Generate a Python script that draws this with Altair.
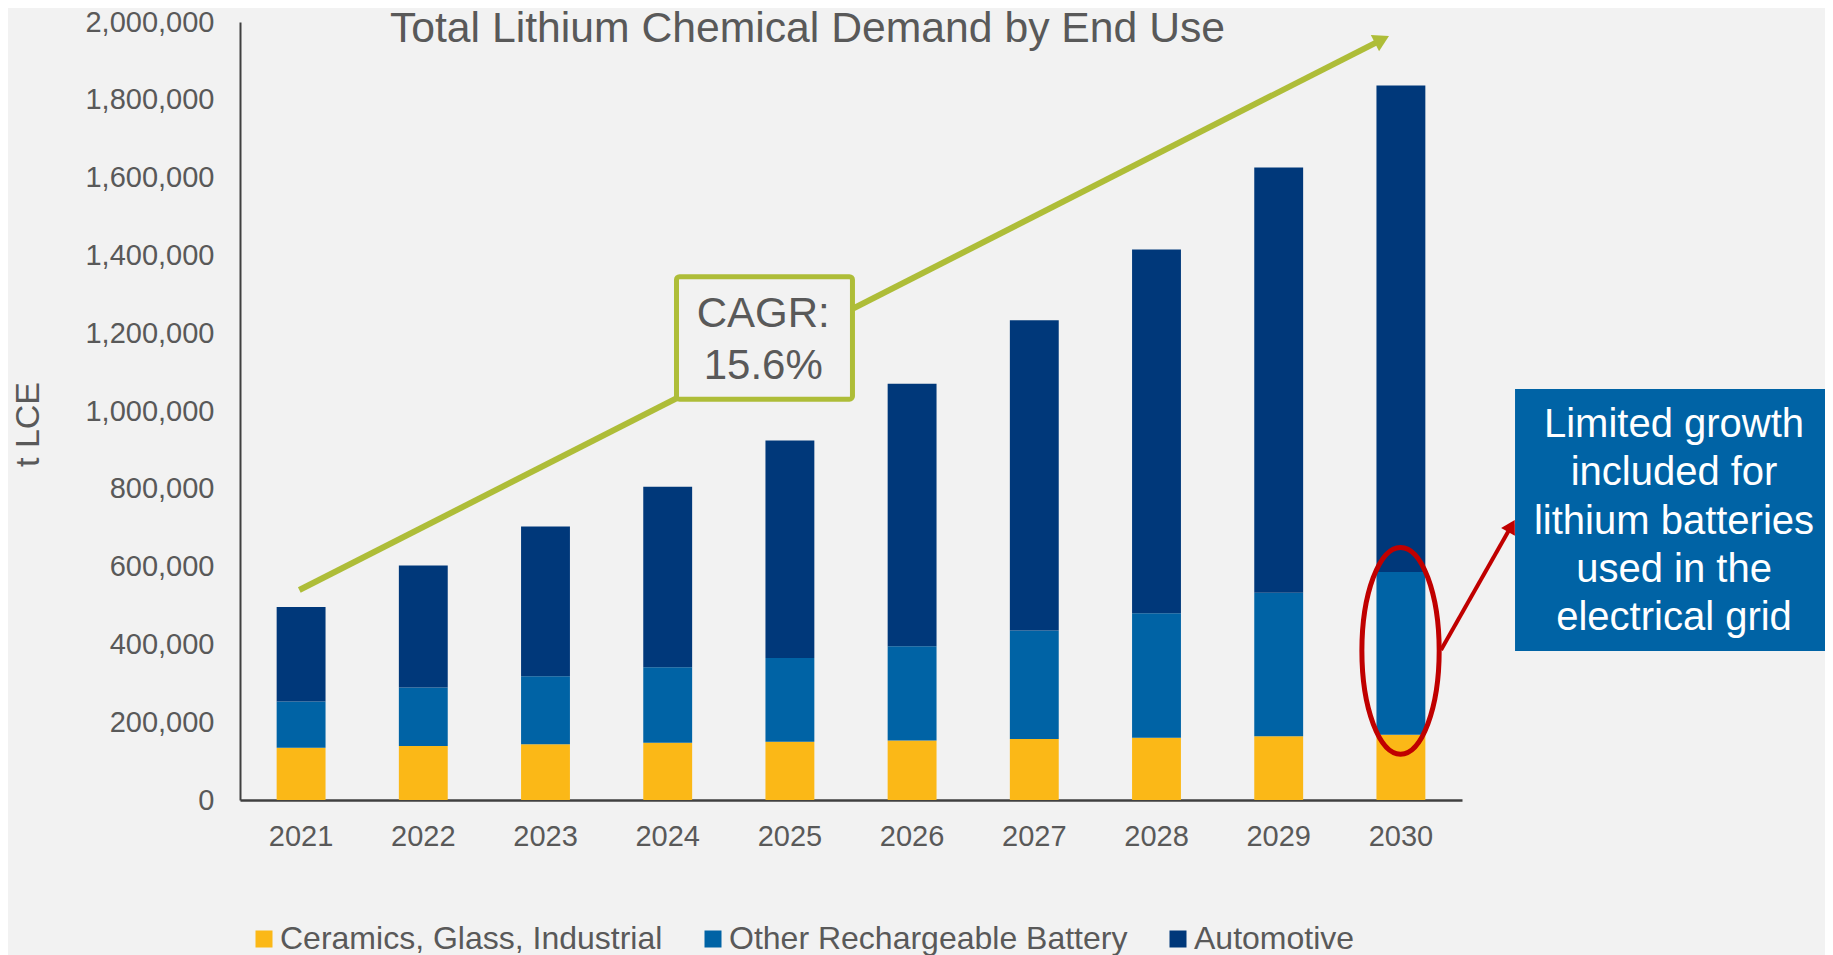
import altair as alt
import pandas as pd

# ---------------- data ----------------
years = ["2021", "2022", "2023", "2024", "2025", "2026", "2027", "2028", "2029", "2030"]
ceramics = [134000, 139000, 143000, 147000, 150000, 153000, 157000, 160000, 164000, 168000]
other_battery = [119000, 150000, 175000, 194000, 215000, 242000, 279000, 320000, 369000, 418000]
automotive = [243000, 314000, 385000, 464000, 559000, 675000, 797000, 935000, 1093000, 1251000]
series_names = ["Ceramics, Glass, Industrial", "Other Rechargeable Battery", "Automotive"]
y_ticks = [0, 200000, 400000, 600000, 800000, 1000000, 1200000, 1400000, 1600000, 1800000, 2000000]

title_text = "Total Lithium Chemical Demand by End Use"
cagr_lines = ["CAGR:", "15.6%"]
note_lines = ["Limited growth", "included for", "lithium batteries", "used in the", "electrical grid"]

# ---------------- styling ----------------
series_colors = ["#FBB817", "#0063A5", "#00387A"]
TEXT = "#595959"
GREEN = "#AEBD38"
RED = "#C00000"
BOX_BLUE = "#0063A5"
BG = "#F2F2F2"
FONT = "Liberation Sans"
PLOT_W, PLOT_H = 1222, 778

rows = []
for i, yr in enumerate(years):
    for k, (name, vals) in enumerate(zip(series_names, [ceramics, other_battery, automotive])):
        rows.append({"year": yr, "series": name, "value": vals[i], "k": k})
df = pd.DataFrame(rows)

yscale = alt.Scale(domain=[0, 2000000], nice=False, zero=True)
xann = alt.Scale(domain=[0, 10], nice=False, zero=False)

bars = alt.Chart(df).mark_bar().encode(
    x=alt.X("year:N", sort=years,
            scale=alt.Scale(paddingInner=0.6, paddingOuter=0.3),
            axis=alt.Axis(title=None, labelAngle=0, labelFontSize=29, labelColor=TEXT, labelFont=FONT,
                          domainColor="#404040", domainWidth=2.5, ticks=False, tickSize=0,
                          labelPadding=45, labelBaseline="alphabetic", grid=False)),
    y=alt.Y("value:Q", stack="zero", scale=yscale,
            axis=alt.Axis(title="t LCE", values=y_ticks, format=",.0f", labelFontSize=29, labelColor=TEXT,
                          labelFont=FONT, labelPadding=26, ticks=False, tickSize=0, grid=False,
                          domainColor="#404040", domainWidth=2,
                          titleFontSize=34, titleFont=FONT, titleColor=TEXT, titleFontWeight="normal",
                          titleAngle=270, titleAlign="center", titleBaseline="alphabetic",
                          titleX=-202, titleY=402)),
    color=alt.Color("series:N", scale=alt.Scale(domain=series_names, range=series_colors),
                    legend=alt.Legend(title=None, orient="none", legendX=8, legendY=901,
                                      direction="horizontal", symbolType="square", symbolSize=289,
                                      symbolStrokeWidth=0, labelFontSize=32, labelColor=TEXT,
                                      labelFont=FONT, labelOffset=0, columnPadding=34,
                                      labelLimit=1000, padding=0)),
    order=alt.Order("k:Q", sort="ascending"),
)

def ax_x(field="ax"):
    return alt.X(f"{field}:Q", scale=xann, axis=None)

def ay_y(field="ay"):
    return alt.Y(f"{field}:Q", scale=yscale, axis=None)

# green CAGR arrow
green_df = pd.DataFrame({"ax": [0.4853], "ax2": [9.345], "ay": [539800], "ay2": [1954800]})
green_line = alt.Chart(green_df).mark_rule(color=GREEN, strokeWidth=6).encode(
    x=ax_x(), x2="ax2:Q", y=ay_y(), y2="ay2:Q")
green_head = alt.Chart(pd.DataFrame({"ax": [9.345], "ay": [1954800]})).mark_point(
    shape="triangle-up", filled=True, size=330, angle=63.06, color=GREEN, opacity=1).encode(
    x=ax_x(), y=ay_y())

# CAGR box
cagr_box = alt.Chart(pd.DataFrame({"ax": [3.572], "ax2": [5.012], "ay": [1030400], "ay2": [1345200]})).mark_rect(
    fill=BG, stroke=GREEN, strokeWidth=5, cornerRadius=3).encode(
    x=ax_x(), x2="ax2:Q", y=ay_y(), y2="ay2:Q")
cagr_text = alt.Chart(pd.DataFrame({"ax": [4.282, 4.282], "ay": [1215200, 1081500], "t": cagr_lines})).mark_text(
    align="center", baseline="alphabetic", fontSize=42, font=FONT, color=TEXT).encode(
    x=ax_x(), y=ay_y(), text="t:N")

title = alt.Chart(pd.DataFrame({"ax": [4.644], "ay": [1947800], "t": [title_text]})).mark_text(
    align="center", baseline="alphabetic", fontSize=42.7, font=FONT, color=TEXT).encode(
    x=ax_x(), y=ay_y(), text="t:N")

# red ellipse + arrow
ellipse_path = ("M0,-1C0.2066,-1 0.374,-0.5523 0.374,0C0.374,0.5523 0.2066,1 0,1"
                "C-0.2066,1 -0.374,0.5523 -0.374,0C-0.374,-0.5523 -0.2066,-1 0,-1Z")
ellipse = alt.Chart(pd.DataFrame({"ax": [9.497], "ay": [383500]})).mark_point(
    shape=ellipse_path, size=42725, filled=False, stroke=RED, strokeWidth=5, opacity=1).encode(
    x=ax_x(), y=ay_y())
red_line = alt.Chart(pd.DataFrame({"ax": [9.828], "ax2": [10.404], "ay": [385600], "ay2": [704400]})).mark_rule(
    color=RED, strokeWidth=4).encode(x=ax_x(), x2="ax2:Q", y=ay_y(), y2="ay2:Q")
red_head = alt.Chart(pd.DataFrame({"ax": [10.404], "ay": [704400]})).mark_point(
    shape="triangle-up", filled=True, size=250, angle=29.6, color=RED, opacity=1).encode(
    x=ax_x(), y=ay_y())

# blue note box
blue_box = alt.Chart(pd.DataFrame({"ax": [10.434], "ax2": [13.036], "ay": [383000], "ay2": [1056600]})).mark_rect(
    fill=BOX_BLUE).encode(x=ax_x(), x2="ax2:Q", y=ay_y(), y2="ay2:Q")
blue_text = alt.Chart(pd.DataFrame({"ax": [11.735] * 5,
                                    "ay": [933200, 809000, 684800, 560700, 436500],
                                    "t": note_lines})).mark_text(
    align="center", baseline="alphabetic", fontSize=40, font=FONT, color="white").encode(
    x=ax_x(), y=ay_y(), text="t:N")

chart = alt.layer(
    bars, green_line, green_head, cagr_box, cagr_text, title,
    ellipse, red_line, red_head, blue_box, blue_text
).resolve_scale(x="independent").resolve_axis(y="independent").properties(
    width=PLOT_W, height=PLOT_H,
    autosize=alt.AutoSizeParams(type="none"),
    padding={"left": 232, "top": 14, "right": 363, "bottom": 155},
    background=BG,
).configure_view(stroke=None)

chart.save("out.html", embed_options={"renderer": "svg", "actions": False})
